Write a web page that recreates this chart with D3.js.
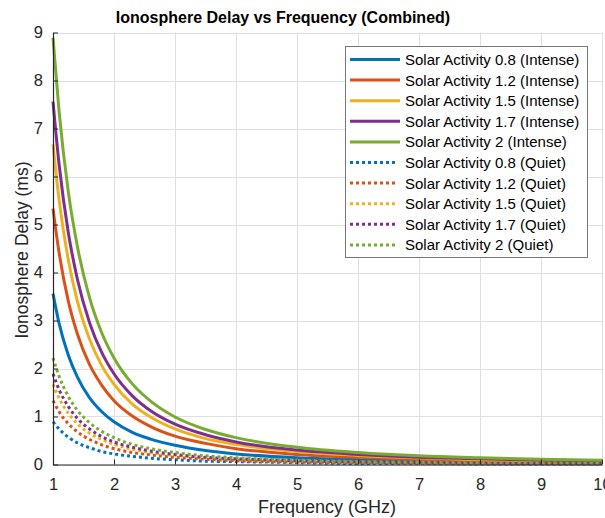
<!DOCTYPE html>
<html>
<head>
<meta charset="utf-8">
<script src="https://cdn.jsdelivr.net/npm/d3@7"></script>
<style>
  html, body { margin: 0; padding: 0; background: #fff; }
  svg { display: block; font-family: "Liberation Sans", Arial, Helvetica, sans-serif; }
</style>
</head>
<body>
<svg id="chart" width="605" height="518"></svg>
<script>
// Frequency samples (GHz)
const freqs = [1, 1.1, 1.25, 1.4, 1.6, 1.8, 2, 2.3, 2.6, 3, 3.5, 4, 5, 6, 7, 8, 9, 10];

// Ionospheric delay (ms), intense conditions
const intense08 = [3.56, 2.94, 2.28, 1.82, 1.39, 1.10, 0.89, 0.67, 0.53, 0.40, 0.29, 0.22, 0.14, 0.10, 0.07, 0.06, 0.04, 0.04];
const intense12 = [5.33, 4.41, 3.41, 2.72, 2.08, 1.65, 1.33, 1.01, 0.79, 0.59, 0.44, 0.33, 0.21, 0.15, 0.11, 0.08, 0.07, 0.05];
const intense15 = [6.67, 5.51, 4.27, 3.40, 2.61, 2.06, 1.67, 1.26, 0.99, 0.74, 0.54, 0.42, 0.27, 0.19, 0.14, 0.10, 0.08, 0.07];
const intense17 = [7.56, 6.25, 4.84, 3.86, 2.95, 2.33, 1.89, 1.43, 1.12, 0.84, 0.62, 0.47, 0.30, 0.21, 0.15, 0.12, 0.09, 0.08];
const intense20 = [8.89, 7.35, 5.69, 4.54, 3.47, 2.74, 2.22, 1.68, 1.32, 0.99, 0.73, 0.56, 0.36, 0.25, 0.18, 0.14, 0.11, 0.09];

// Ionospheric delay (ms), quiet conditions
const quiet08 = [0.89, 0.74, 0.57, 0.45, 0.35, 0.27, 0.22, 0.17, 0.13, 0.10, 0.07, 0.06, 0.04, 0.02, 0.02, 0.01, 0.01, 0.01];
const quiet12 = [1.33, 1.10, 0.85, 0.68, 0.52, 0.41, 0.33, 0.25, 0.20, 0.15, 0.11, 0.08, 0.05, 0.04, 0.03, 0.02, 0.02, 0.01];
const quiet15 = [1.67, 1.38, 1.07, 0.85, 0.65, 0.52, 0.42, 0.32, 0.25, 0.19, 0.14, 0.10, 0.07, 0.05, 0.03, 0.03, 0.02, 0.02];
const quiet17 = [1.89, 1.56, 1.21, 0.96, 0.74, 0.58, 0.47, 0.36, 0.28, 0.21, 0.15, 0.12, 0.08, 0.05, 0.04, 0.03, 0.02, 0.02];
const quiet20 = [2.22, 1.84, 1.42, 1.13, 0.87, 0.69, 0.56, 0.42, 0.33, 0.25, 0.18, 0.14, 0.09, 0.06, 0.05, 0.03, 0.03, 0.02];

const seriesNames = [
  "Solar Activity 0.8 (Intense)", "Solar Activity 1.2 (Intense)", "Solar Activity 1.5 (Intense)",
  "Solar Activity 1.7 (Intense)", "Solar Activity 2 (Intense)",
  "Solar Activity 0.8 (Quiet)", "Solar Activity 1.2 (Quiet)", "Solar Activity 1.5 (Quiet)",
  "Solar Activity 1.7 (Quiet)", "Solar Activity 2 (Quiet)"
];
const seriesValues = [intense08, intense12, intense15, intense17, intense20,
                      quiet08, quiet12, quiet15, quiet17, quiet20];
const seriesColors = ["#0072BD", "#D95319", "#EDB120", "#7E2F8E", "#77AC30",
                      "#0072BD", "#D95319", "#EDB120", "#7E2F8E", "#77AC30"];
const seriesDotted = [false, false, false, false, false, true, true, true, true, true];

const xTicks = [1, 2, 3, 4, 5, 6, 7, 8, 9, 10];
const yTicks = [0, 1, 2, 3, 4, 5, 6, 7, 8, 9];

const svg = d3.select("#chart");
const plotLeft = 53, plotRight = 602, plotTop = 32.5, plotBottom = 464.5;

const x = d3.scaleLinear().domain([1, 10]).range([plotLeft, plotRight]);
const y = d3.scaleLinear().domain([0, 9]).range([plotBottom, plotTop]);

// grid
const grid = svg.append("g").attr("stroke", "#dfdfdf").attr("stroke-width", 1);
grid.selectAll("line.gx").data(xTicks).join("line")
  .attr("x1", d => Math.round(x(d)) + 0.5).attr("x2", d => Math.round(x(d)) + 0.5)
  .attr("y1", plotTop).attr("y2", plotBottom);
grid.selectAll("line.gy").data(yTicks).join("line")
  .attr("x1", plotLeft).attr("x2", plotRight)
  .attr("y1", d => Math.round(y(d)) + 0.5).attr("y2", d => Math.round(y(d)) + 0.5);

// series
const line = d3.line()
  .x((d, i) => x(freqs[i]))
  .y(d => y(d))
  .curve(d3.curveMonotoneX);

const plot = svg.append("g");
seriesValues.forEach((vals, k) => {
  plot.append("path")
    .attr("d", line(vals))
    .attr("fill", "none")
    .attr("stroke", seriesColors[k])
    .attr("stroke-width", 3)
    .attr("stroke-dasharray", seriesDotted[k] ? "3,3" : null);
});

// axes
const xAxis = d3.axisBottom(x).tickValues(xTicks).tickSizeInner(-5).tickSizeOuter(0).tickPadding(13.5);
const yAxis = d3.axisLeft(y).tickValues(yTicks).tickSizeInner(-5).tickSizeOuter(0).tickPadding(10);

const gx = svg.append("g").attr("transform", `translate(0,${plotBottom})`).call(xAxis);
const gy = svg.append("g").attr("transform", `translate(${plotLeft},0)`).call(yAxis);
[gx, gy].forEach(g => {
  g.select(".domain").attr("stroke", "#262626").attr("stroke-width", 1.2);
  g.selectAll(".tick line").attr("stroke", "#262626");
  g.selectAll(".tick text").attr("fill", "#262626").attr("font-size", 16.5)
    .attr("font-family", "Liberation Sans, Arial, sans-serif");
});

// title and labels
svg.append("text").attr("x", 283).attr("y", 23).attr("text-anchor", "middle")
  .attr("font-size", 16).attr("font-weight", "bold").attr("fill", "#000")
  .text("Ionosphere Delay vs Frequency (Combined)");
svg.append("text").attr("x", 327).attr("y", 513).attr("text-anchor", "middle")
  .attr("font-size", 18).attr("fill", "#262626").text("Frequency (GHz)");
svg.append("text").attr("transform", "translate(28,250) rotate(-90)")
  .attr("text-anchor", "middle").attr("font-size", 17.5).attr("fill", "#262626")
  .text("Ionosphere Delay (ms)");

// legend
const lg = svg.append("g").attr("transform", "translate(345,46)");
lg.append("rect").attr("x", 0.5).attr("y", 0.5).attr("width", 242).attr("height", 211)
  .attr("fill", "#fff").attr("stroke", "#777").attr("stroke-width", 1);
seriesNames.forEach((name, k) => {
  const ry = 13.5 + k * 20.6;
  lg.append("line").attr("x1", 5).attr("x2", seriesDotted[k] ? 53 : 55)
    .attr("y1", ry).attr("y2", ry)
    .attr("stroke", seriesColors[k]).attr("stroke-width", 3)
    .attr("stroke-dasharray", seriesDotted[k] ? "3,3" : null);
  lg.append("text").attr("x", 60).attr("y", ry).attr("dy", "0.36em")
    .attr("font-size", 15).attr("fill", "#000").text(name);
});
</script>
</body>
</html>
